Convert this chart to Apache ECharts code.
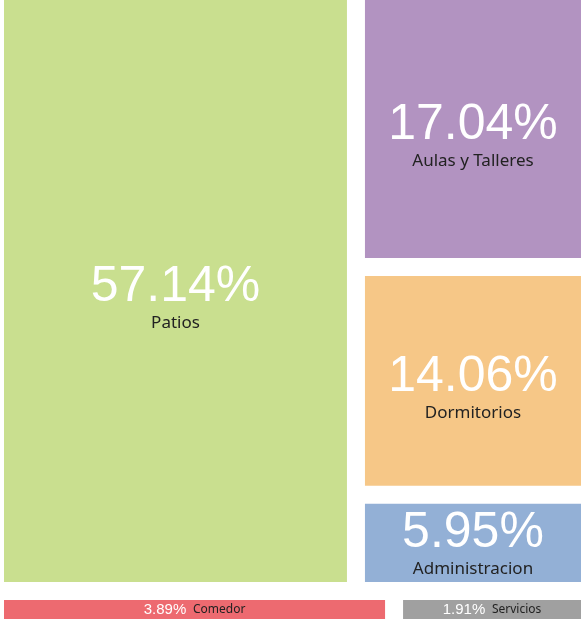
<!DOCTYPE html>
<html>
<head>
<meta charset="utf-8">
<script src="https://cdn.jsdelivr.net/npm/echarts@6/dist/echarts.min.js"></script>
<style>
  html, body { margin: 0; padding: 0; background: #ffffff; }
  #chart { width: 581px; height: 619px; }
</style>
</head>
<body>
<div id="chart"></div>
<script>
// Share of the site taken by each use, in percent
const categories = ['Patios', 'Aulas y Talleres', 'Dormitorios', 'Administracion', 'Comedor', 'Servicios'];
const shares = [57.14, 17.04, 14.06, 5.95, 3.89, 1.91];
const colors = ['#C9DF8F', '#B293C1', '#F6C787', '#93B0D6', '#ED6A70', '#A0A0A0'];

// How the uses are grouped into blocks of the treemap
const mainBlock = ['Patios'];
const sideBlock = ['Aulas y Talleres', 'Dormitorios', 'Administracion'];
const lowerRow = ['Comedor', 'Servicios'];

function leaf(name) {
  const i = categories.indexOf(name);
  return { name: name, value: shares[i], itemStyle: { color: colors[i] } };
}

// Cells in the thin lower row get a one-line label
function lowerLeaf(name) {
  const item = leaf(name);
  item.label = {
    formatter: function (p) {
      return '{vs|' + p.value.toFixed(2) + '%}  {ns|' + p.name + '}';
    }
  };
  return item;
}

const treeData = [
  {
    name: 'upper',
    children: mainBlock.map(leaf).concat([{ name: 'side', children: sideBlock.map(leaf) }])
  },
  {
    name: 'lower',
    children: lowerRow.map(lowerLeaf)
  }
];

const chart = echarts.init(document.getElementById('chart'), null, { renderer: 'canvas' });

chart.setOption({
  animation: false,
  backgroundColor: '#ffffff',
  series: [{
    type: 'treemap',
    left: 4, top: 0, right: 0, bottom: 0,
    roam: false,
    nodeClick: false,
    breadcrumb: { show: false },
    sort: 'desc',
    itemStyle: { borderWidth: 0, borderColor: '#ffffff', gapWidth: 18 },
    levels: [
      { itemStyle: { gapWidth: 18, borderWidth: 0 } },
      { itemStyle: { gapWidth: 18, borderWidth: 0 } },
      { itemStyle: { gapWidth: 18, borderWidth: 0 } },
      { itemStyle: { gapWidth: 18, borderWidth: 0 } }
    ],
    label: {
      show: true,
      position: 'inside',
      padding: 0,
      formatter: function (p) {
        return '{v|' + p.value.toFixed(2) + '%}\n{n|' + p.name + '}';
      },
      rich: {
        v: { fontFamily: 'Liberation Sans', fontSize: 50, color: '#ffffff', lineHeight: 50, align: 'center' },
        n: { fontFamily: 'Noto Sans', fontSize: 17, color: '#222222', lineHeight: 22, align: 'center' },
        vs: { fontFamily: 'Liberation Sans', fontSize: 15, color: '#ffffff', lineHeight: 16 },
        ns: { fontFamily: 'Noto Sans', fontSize: 12, color: '#222222', lineHeight: 16 }
      }
    },
    // Move each label block down towards the middle of its cell,
    // keeping the two-line block inside cells that are only just tall enough
    labelLayout: function (params) {
      const h = params.rect.height;
      if (h < 60) {
        return { dy: h / 2 - 8 };
      }
      return { dy: Math.min(h / 2 - 29, h - 74) };
    },
    upperLabel: { show: false },
    emphasis: { disabled: true },
    data: treeData
  }]
});
</script>
</body>
</html>
